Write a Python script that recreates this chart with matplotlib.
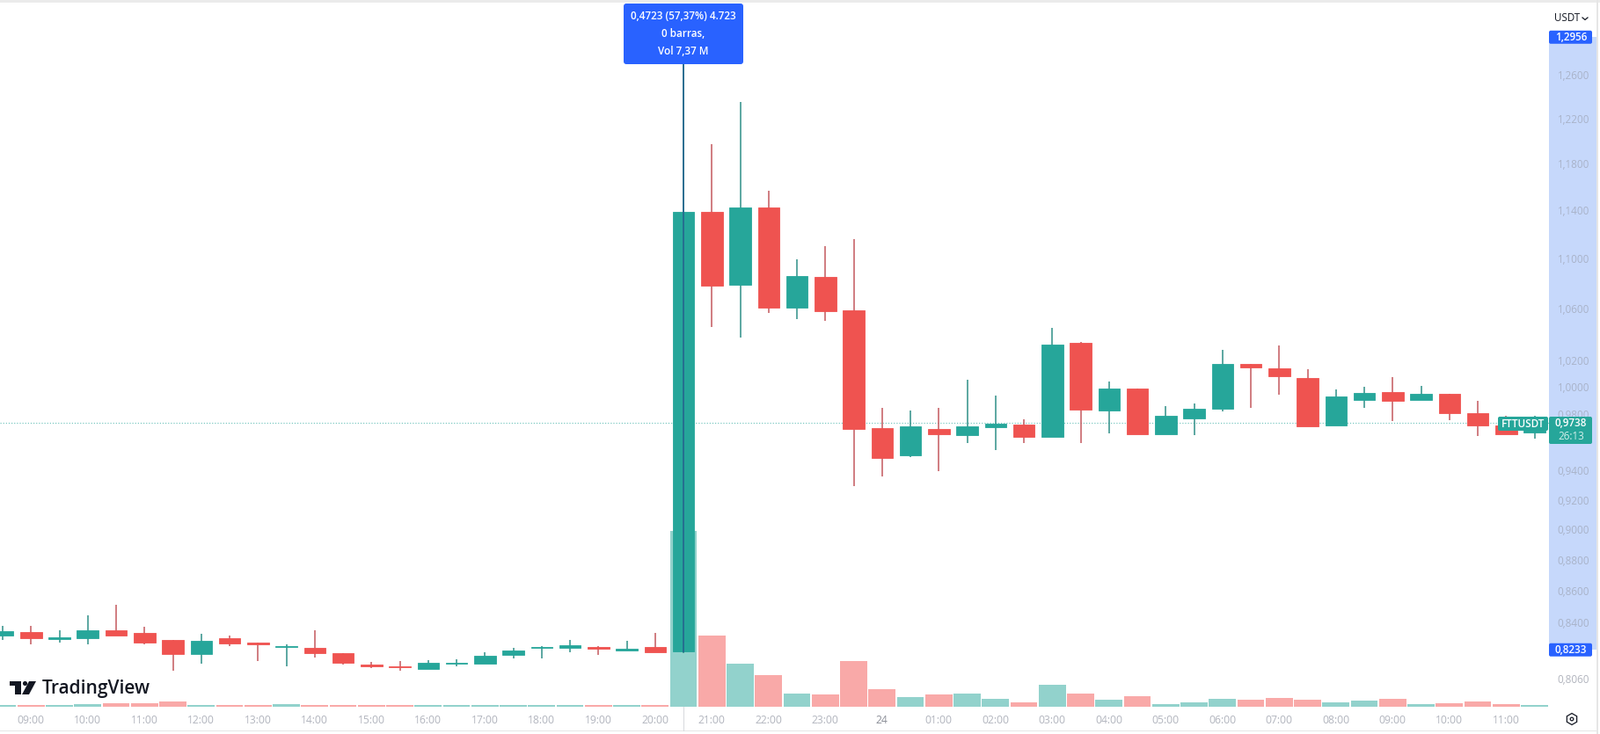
import matplotlib
matplotlib.use("Agg")
import matplotlib.pyplot as plt
from matplotlib.patches import Circle, FancyBboxPatch, Polygon, Rectangle, RegularPolygon

W, H = 1819, 835

# 30 minute bars, FTTUSDT, 08:30 -> 11:30 next day
opens = [0.8320, 0.8344, 0.8298, 0.8304, 0.8351, 0.8338, 0.8295, 0.8207, 0.8302, 0.8275, 0.8250,
         0.8243, 0.8214, 0.8143, 0.8133, 0.8117, 0.8147, 0.8149, 0.8202, 0.8243, 0.8245, 0.8248,
         0.8231, 0.8252, 0.8223, 1.1383, 1.0789, 1.1420, 1.0608, 1.0847, 1.0585, 0.9699, 0.9507,
         0.9693, 0.9649, 0.9705, 0.9729, 0.9638, 1.0331, 0.9828, 0.9987, 0.9658, 0.9771, 0.9843,
         1.0171, 1.0142, 1.0070, 0.9722, 0.9908, 0.9966, 0.9908, 0.9953, 0.9811, 0.9722, 0.9671]
highs = [0.8378, 0.8378, 0.8351, 0.8444, 0.8510, 0.8374, 0.8296, 0.8331, 0.8318, 0.8275, 0.8266,
         0.8353, 0.8214, 0.8161, 0.8165, 0.8170, 0.8174, 0.8216, 0.8245, 0.8254, 0.8295, 0.8254,
         0.8290, 0.8335, 1.2956, 1.1973, 1.2347, 1.1564, 1.0990, 1.1097, 1.1155, 0.9845, 0.9828,
         0.9845, 1.0054, 0.9940, 0.9764, 1.0448, 1.0342, 1.0039, 0.9987, 0.9860, 0.9882, 1.0282,
         1.0171, 1.0313, 1.0131, 0.9985, 1.0000, 1.0072, 1.0011, 0.9953, 0.9897, 0.9790, 0.9790]
lows = [0.8296, 0.8264, 0.8275, 0.8264, 0.8318, 0.8264, 0.8105, 0.8147, 0.8254, 0.8165, 0.8131,
        0.8186, 0.8142, 0.8121, 0.8106, 0.8117, 0.8135, 0.8149, 0.8179, 0.8183, 0.8216, 0.8200,
        0.8231, 0.8216, 0.8215, 1.0455, 1.0376, 1.0562, 1.0516, 1.0500, 0.9293, 0.9360, 0.9493,
        0.9396, 0.9592, 0.9544, 0.9597, 0.9638, 0.9592, 0.9666, 0.9657, 0.9658, 0.9653, 0.9824,
        0.9850, 0.9946, 0.9716, 0.9722, 0.9845, 0.9750, 0.9903, 0.9760, 0.9642, 0.9657, 0.9628]
closes = [0.8350, 0.8304, 0.8308, 0.8351, 0.8320, 0.8277, 0.8207, 0.8290, 0.8271, 0.8266, 0.8255,
          0.8212, 0.8154, 0.8135, 0.8126, 0.8152, 0.8152, 0.8199, 0.8231, 0.8248, 0.8262, 0.8239,
          0.8242, 0.8216, 1.1383, 1.0782, 1.1420, 1.0608, 1.0854, 1.0580, 0.9695, 0.9487, 0.9712,
          0.9655, 0.9712, 0.9732, 0.9638, 1.0318, 0.9834, 0.9987, 0.9657, 0.9788, 0.9839, 1.0176,
          1.0146, 1.0081, 0.9716, 0.9934, 0.9959, 0.9899, 0.9953, 0.9807, 0.9722, 0.9657, 0.9738]
# volume in millions
volumes = [0.04, 0.04, 0.04, 0.09, 0.13, 0.13, 0.20, 0.055, 0.04, 0.05, 0.09, 0.07, 0.055, 0.06,
           0.04, 0.04, 0.06, 0.06, 0.07, 0.04, 0.04, 0.04, 0.04, 0.06, 7.37, 2.95, 1.78, 1.30,
           0.55, 0.49, 1.89, 0.71, 0.38, 0.48, 0.55, 0.33, 0.18, 0.92, 0.55, 0.29, 0.41, 0.11,
           0.15, 0.33, 0.29, 0.34, 0.26, 0.17, 0.24, 0.32, 0.08, 0.14, 0.21, 0.10, 0.06]

time_positions = [1, 3, 5, 7, 9, 11, 13, 15, 17, 19, 21, 23, 25, 27, 29, 31, 33, 35, 37, 39, 41,
                  43, 45, 47, 49, 51, 53]
time_labels = ["09:00", "10:00", "11:00", "12:00", "13:00", "14:00", "15:00", "16:00", "17:00",
               "18:00", "19:00", "20:00", "21:00", "22:00", "23:00", "24", "01:00", "02:00",
               "03:00", "04:00", "05:00", "06:00", "07:00", "08:00", "09:00", "10:00", "11:00"]
price_ticks = [0.806, 0.84, 0.86, 0.88, 0.90, 0.92, 0.94, 0.98, 1.00, 1.02, 1.06, 1.10,
               1.14, 1.18, 1.22, 1.26]
price_labels = ["0,8060", "0,8400", "0,8600", "0,8800", "0,9000", "0,9200", "0,9400",
                "0,9800", "1,0000", "1,0200", "1,0600", "1,1000", "1,1400", "1,1800", "1,2200",
                "1,2600"]

range_low = 0.8233
range_high = 1.2956
last_price = 0.9738
spike_bar = 24

GREEN = "#26a69a"
RED = "#ef5350"
GREEN_VOL = "#92d2cc"
RED_VOL = "#f9a9a8"
BLUE = "#2962ff"
GRAY = "#b2b5be"
FONT = "Open Sans"
XLIM = (-0.093, 54.51)


def px_x(x):
    return x / W


def px_y(y):
    return 1 - y / H


def label(fig, x, y, s, color="white", size=8.4, weight="normal", ha="center"):
    fig.text(px_x(x), px_y(y), s, color=color, fontsize=size, fontweight=weight,
             ha=ha, va="center", family=FONT, zorder=20)


def box(fig, x0, y0, x1, y1, color, round_px=2):
    # pixel box measured from top left of the picture
    fig.add_artist(FancyBboxPatch((x0 + round_px, H - y1 + round_px),
                                  x1 - x0 - 2 * round_px, y1 - y0 - 2 * round_px,
                                  boxstyle=f"round,pad={round_px},rounding_size={round_px}",
                                  transform=None, fc=color, ec="none", zorder=15))


fig = plt.figure(figsize=(W / 100, H / 100), dpi=100, facecolor="white")

rect = [0, px_y(803.5), 1761 / W, (803.5 - 5) / H]
ax_vol = fig.add_axes(rect, zorder=1)
ax = fig.add_axes(rect, zorder=2)
ax.patch.set_visible(False)

xs = list(range(len(opens)))
up = [c >= o for o, c in zip(opens, closes)]

# volume pane
ax_vol.bar(xs, volumes, width=0.95, color=[GREEN_VOL if u else RED_VOL for u in up])
ax_vol.set_xlim(*XLIM)
ax_vol.set_ylim(0, 29.44)
ax_vol.axis("off")

# candles
ax.set_yscale("log")
ax.axhline(last_price, color=GREEN, lw=0.9, ls=(0, (1, 1.5)), alpha=0.6, zorder=1)
ax.vlines(xs, lows, highs, colors=["#2f8f88" if u else "#c4585e" for u in up], lw=1.1, zorder=2)
ax.bar(xs, [abs(c - o) for o, c in zip(opens, closes)], bottom=[min(o, c) for o, c in zip(opens, closes)],
       width=0.76, color=[GREEN if u else RED for u in up],
       edgecolor=[GREEN if u else RED for u in up], linewidth=0.6, zorder=3)

# measure tool line
ax.vlines(spike_bar, range_low * 0.998, range_high, colors="#25648f", lw=1.2, zorder=4)

ax.set_xlim(*XLIM)
ax.set_ylim(0.7896, 1.3274)
for s in ax.spines.values():
    s.set_visible(False)

ax.set_xticks(time_positions, labels=time_labels)
ax.yaxis.tick_right()
ax.set_yticks(price_ticks, labels=price_labels)
ax.set_yticks([], minor=True)
ax.tick_params(axis="x", length=0, pad=6.5, labelsize=8.7, labelcolor=GRAY)
ax.tick_params(axis="y", length=0, pad=7, labelsize=8.4, labelcolor="#a9b3c9")
for t in ax.get_xticklabels() + ax.get_yticklabels():
    t.set_family(FONT)
for t in ax.get_xticklabels():
    if t.get_text() == "24":
        t.set_color("#8a8d96")
ax.get_yticklabels()[0].set_color(GRAY)

# selected range on the price scale
ax.add_patch(Rectangle((1.0, range_low), 54 / 1761, range_high - range_low,
                       transform=ax.get_yaxis_transform(), fc="#c6d8fb", ec="none",
                       clip_on=False, zorder=0))


def price_y(p):
    return H - ax.transData.transform((0, p))[1]


# scale badges
for p, txt in [(range_high, "1,2956"), (range_low, "0,8233")]:
    yc = price_y(p)
    box(fig, 1761, yc - 7.5, 1810, yc + 7.5, BLUE)
    label(fig, 1786, yc, txt, weight="semibold")

box(fig, 1761, 474, 1810, 505, GREEN)
box(fig, 1703, 474, 1760, 490, GREEN)
label(fig, 1731, 482, "FTTUSDT", weight="semibold")
label(fig, 1786, 481.5, "0,9738", weight="semibold")
label(fig, 1786, 496, "26:13", color="#d5f0ec")

# measure tooltip
box(fig, 709, 4, 845, 73, BLUE, round_px=3)
label(fig, 777, 19, "0,4723 (57,37%) 4.723", weight="semibold")
label(fig, 777, 39, "0 barras,", weight="semibold")
label(fig, 777, 59, "Vol 7,37 M", weight="semibold")

# frame bits
fig.add_artist(Rectangle((0, H - 3), W, 3, transform=None, fc="#ebebeb", ec="none"))
fig.add_artist(Rectangle((0, 3), W - 4, 1, transform=None, fc="#e6e6e6", ec="none"))
fig.add_artist(Rectangle((1815, 0), 1.5, H, transform=None, fc="#e6e6e6", ec="none"))
fig.add_artist(Rectangle((776.5, 3), 1, H - 803.5 - 3, transform=None, fc="#d8d9dd", ec="none"))

# currency button
label(fig, 1796, 20, "USDT", color="#131722", ha="right")
fig.add_artist(plt.Line2D([1799, 1802, 1805], [H - 20, H - 22.5, H - 20], transform=None,
                          color="#131722", lw=0.9))

# settings icon
fig.add_artist(RegularPolygon((1787, H - 818), 6, radius=6.5, orientation=0, transform=None,
                              fc="none", ec="#131722", lw=0.9))
fig.add_artist(Circle((1787, H - 818), 1.8, transform=None, fc="none", ec="#131722", lw=0.9))

# TradingView logo
logo = "#131722"
fig.add_artist(Polygon([(11, H - 775), (24, H - 775), (24, H - 790), (17, H - 790), (17, H - 780), (11, H - 780)],
                       transform=None, fc=logo, ec="none", zorder=15))
fig.add_artist(Circle((28.5, H - 777.5), 2.6, transform=None, fc=logo, ec="none", zorder=15))
fig.add_artist(Polygon([(33, H - 775), (41, H - 775), (33, H - 790), (25, H - 790)],
                       transform=None, fc=logo, ec="none", zorder=15))
label(fig, 48, 783, "TradingView", color=logo, size=15, weight="medium", ha="left")

fig.savefig("out.png", dpi=100)
